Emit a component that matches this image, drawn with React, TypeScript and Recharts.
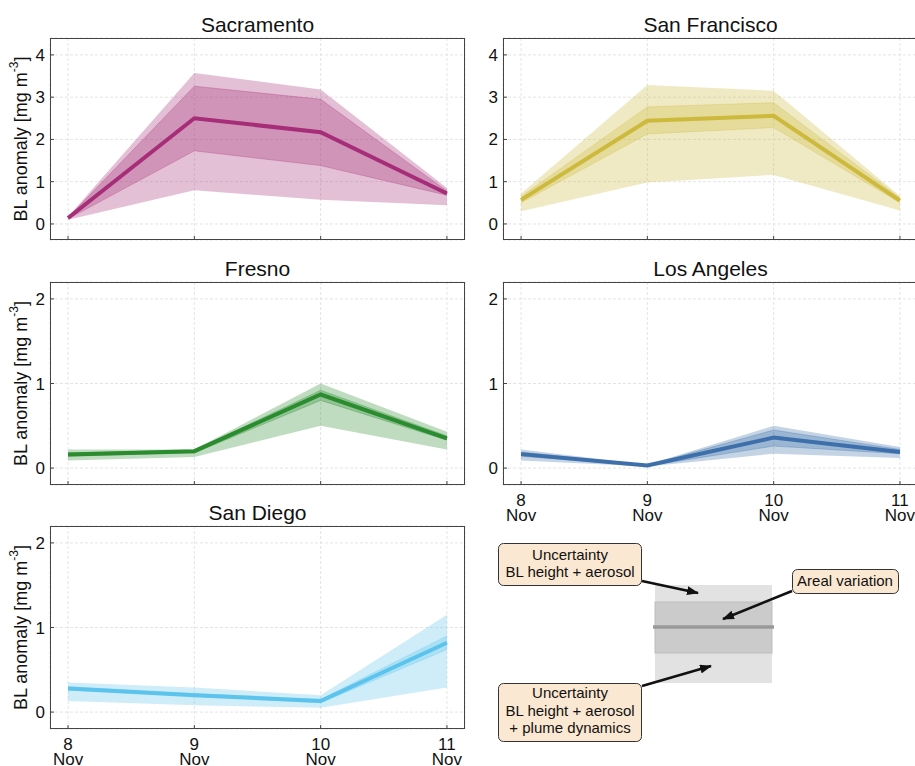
import { ComposedChart, Area, Line, XAxis, YAxis, CartesianGrid } from "recharts";

const FONT = '"Liberation Sans", Arial, Helvetica, sans-serif';

const days = [8, 9, 10, 11];
const monthLabel = "Nov";
const topTicks = [0, 1, 2, 3, 4];
const lowTicks = [0, 1, 2];

// Sacramento
const sacMean = [0.14, 2.5, 2.17, 0.72];
const sacInnerLo = [0.12, 1.73, 1.38, 0.68];
const sacInnerHi = [0.15, 3.26, 2.95, 0.78];
const sacOuterLo = [0.1, 0.8, 0.57, 0.44];
const sacOuterHi = [0.17, 3.57, 3.18, 0.85];

// San Francisco
const sfMean = [0.57, 2.44, 2.56, 0.55];
const sfInnerLo = [0.5, 2.13, 2.28, 0.5];
const sfInnerHi = [0.65, 2.77, 2.87, 0.62];
const sfOuterLo = [0.3, 0.98, 1.16, 0.32];
const sfOuterHi = [0.72, 3.29, 3.15, 0.66];

// Fresno
const frMean = [0.16, 0.2, 0.87, 0.35];
const frInnerLo = [0.14, 0.18, 0.8, 0.33];
const frInnerHi = [0.18, 0.21, 0.92, 0.38];
const frOuterLo = [0.09, 0.13, 0.5, 0.22];
const frOuterHi = [0.22, 0.22, 1.0, 0.43];

// Los Angeles
const laMean = [0.165, 0.03, 0.36, 0.19];
const laInnerLo = [0.14, 0.025, 0.26, 0.17];
const laInnerHi = [0.19, 0.035, 0.45, 0.22];
const laOuterLo = [0.09, 0.02, 0.17, 0.12];
const laOuterHi = [0.22, 0.04, 0.5, 0.25];

// San Diego
const sdMean = [0.28, 0.2, 0.13, 0.82];
const sdInnerLo = [0.26, 0.19, 0.11, 0.74];
const sdInnerHi = [0.3, 0.22, 0.15, 0.9];
const sdOuterLo = [0.13, 0.08, 0.05, 0.29];
const sdOuterHi = [0.35, 0.29, 0.2, 1.15];

const AXIS_W = 50;
const TOP = 4;
const XH = 45;
const xDomain = [7.857, 11.143];

type PanelSpec = {
  title: string;
  color: string;
  mean: number[];
  innerLo: number[];
  innerHi: number[];
  outerLo: number[];
  outerHi: number[];
  x: number;
  y: number;
  w: number;
  h: number;
  yDomain: number[];
  yTicks: number[];
  xLabels: boolean;
  yLabel: boolean;
};

const renderXTick = (props: any) => {
  const { x, y, payload } = props;
  return (
    <g>
      <text x={x} y={y + 21} textAnchor="middle" fontSize={17} fill="#111" fontFamily={FONT}>
        {payload.value}
      </text>
      <text x={x} y={y + 36} textAnchor="middle" fontSize={17} fill="#111" fontFamily={FONT}>
        {monthLabel}
      </text>
    </g>
  );
};

const renderNoTick = () => <g />;

const renderYLabel = (props: any) => {
  const vb = props.viewBox || { x: 0, y: 0, width: AXIS_W, height: 200 };
  const cx = vb.x + 21;
  const cy = vb.y + vb.height / 2;
  return (
    <text
      x={cx}
      y={cy}
      transform={`rotate(-90, ${cx}, ${cy})`}
      textAnchor="middle"
      dominantBaseline="central"
      fontSize={18}
      fill="#111"
      fontFamily={FONT}
    >
      <tspan>BL anomaly [mg m</tspan>
      <tspan dy={-7} fontSize={12}>-3</tspan>
      <tspan dy={7}>]</tspan>
    </text>
  );
};

function Panel({ p }: { p: PanelSpec }) {
  const data = days.map((d, i) => ({
    day: d,
    mean: p.mean[i],
    inner: [p.innerLo[i], p.innerHi[i]],
    outer: [p.outerLo[i], p.outerHi[i]],
  }));
  return (
    <>
      <div
        style={{
          position: "absolute",
          left: p.x,
          top: p.y - 24,
          width: p.w,
          textAlign: "center",
          fontSize: 21,
          lineHeight: "21px",
          color: "#111",
        }}
      >
        {p.title}
      </div>
      <div style={{ position: "absolute", left: p.x - AXIS_W, top: p.y - TOP }}>
        <ComposedChart
          width={p.w + AXIS_W + 2}
          height={TOP + p.h + XH}
          data={data}
          margin={{ top: TOP, right: 2, bottom: 0, left: 0 }}
        >
          <CartesianGrid stroke="#e4e4e4" strokeDasharray="3 2" />
          <XAxis
            dataKey="day"
            type="number"
            domain={xDomain}
            ticks={days}
            allowDataOverflow
            axisLine={false}
            tickSize={-4}
            tickMargin={4}
            tickLine={{ stroke: "#444" }}
            height={XH}
            interval={0}
            tick={p.xLabels ? renderXTick : renderNoTick}
          />
          <YAxis
            type="number"
            domain={p.yDomain}
            ticks={p.yTicks}
            allowDataOverflow
            axisLine={false}
            width={AXIS_W}
            tickSize={-4}
            tickMargin={9}
            tickLine={{ stroke: "#444" }}
            interval={0}
            tick={{ fontSize: 17, fill: "#111", fontFamily: FONT }}
            label={p.yLabel ? { content: renderYLabel } : undefined}
          />
          <Area
            type="linear"
            dataKey="outer"
            fill={p.color}
            fillOpacity={0.3}
            stroke="none"
            isAnimationActive={false}
            dot={false}
            activeDot={false}
          />
          <Area
            type="linear"
            dataKey="inner"
            fill={p.color}
            fillOpacity={0.3}
            stroke={p.color}
            strokeOpacity={0.3}
            strokeWidth={1}
            isAnimationActive={false}
            dot={false}
            activeDot={false}
          />
          <Line
            type="linear"
            dataKey="mean"
            stroke={p.color}
            strokeWidth={4}
            dot={false}
            activeDot={false}
            isAnimationActive={false}
          />
        </ComposedChart>
      </div>
      <div
        style={{
          position: "absolute",
          left: p.x,
          top: p.y,
          width: p.w,
          height: p.h,
          border: "1.5px solid #444",
          boxSizing: "border-box",
          pointerEvents: "none",
        }}
      />
    </>
  );
}

const panels: PanelSpec[] = [
  {
    title: "Sacramento", color: "#A62D78",
    mean: sacMean, innerLo: sacInnerLo, innerHi: sacInnerHi, outerLo: sacOuterLo, outerHi: sacOuterHi,
    x: 50, y: 38, w: 415, h: 202, yDomain: [-0.38, 4.4], yTicks: topTicks, xLabels: false, yLabel: true,
  },
  {
    title: "San Francisco", color: "#CDB93C",
    mean: sfMean, innerLo: sfInnerLo, innerHi: sfInnerHi, outerLo: sfOuterLo, outerHi: sfOuterHi,
    x: 503, y: 38, w: 415, h: 202, yDomain: [-0.38, 4.4], yTicks: topTicks, xLabels: false, yLabel: false,
  },
  {
    title: "Fresno", color: "#2A8C2E",
    mean: frMean, innerLo: frInnerLo, innerHi: frInnerHi, outerLo: frOuterLo, outerHi: frOuterHi,
    x: 50, y: 282, w: 415, h: 203, yDomain: [-0.2, 2.2], yTicks: lowTicks, xLabels: false, yLabel: true,
  },
  {
    title: "Los Angeles", color: "#3D6FAA",
    mean: laMean, innerLo: laInnerLo, innerHi: laInnerHi, outerLo: laOuterLo, outerHi: laOuterHi,
    x: 503, y: 282, w: 415, h: 203, yDomain: [-0.2, 2.2], yTicks: lowTicks, xLabels: true, yLabel: false,
  },
  {
    title: "San Diego", color: "#5CC4EC",
    mean: sdMean, innerLo: sdInnerLo, innerHi: sdInnerHi, outerLo: sdOuterLo, outerHi: sdOuterHi,
    x: 50, y: 526, w: 415, h: 203, yDomain: [-0.2, 2.2], yTicks: lowTicks, xLabels: true, yLabel: true,
  },
];

function LegendSketch() {
  const boxFill = "#FBE8D2";
  const txt = { fontSize: 15, fill: "#111", fontFamily: FONT, textAnchor: "middle" as const };
  return (
    <svg
      width={435}
      height={246}
      style={{ position: "absolute", left: 480, top: 520 }}
    >
      <defs>
        <marker id="ah" markerWidth="12" markerHeight="9" refX="11" refY="4.5" orient="auto" markerUnits="userSpaceOnUse">
          <path d="M0,0 L12,4.5 L0,9 z" fill="#111" />
        </marker>
      </defs>
      <rect x={175} y={65} width={117} height={98} fill="#E2E2E2" />
      <rect x={175} y={82} width={117} height={51} fill="#CBCBCB" stroke="#BDBDBD" strokeWidth={1} />
      <line x1={173} x2={294} y1={107} y2={107} stroke="#999" strokeWidth={3.5} />

      <rect x={18.5} y={23.5} width={143} height={42} rx={5} fill={boxFill} stroke="#333" strokeWidth={1} />
      <text {...txt} x={90} y={40}>Uncertainty</text>
      <text {...txt} x={90} y={57}>BL height + aerosol</text>

      <rect x={312.5} y={49.5} width={106} height={24} rx={5} fill={boxFill} stroke="#333" strokeWidth={1} />
      <text {...txt} x={365} y={66}>Areal variation</text>

      <rect x={18.5} y={163.5} width={143} height={58} rx={5} fill={boxFill} stroke="#333" strokeWidth={1} />
      <text {...txt} x={90} y={178}>Uncertainty</text>
      <text {...txt} x={90} y={195.5}>BL height + aerosol</text>
      <text {...txt} x={90} y={213}>+ plume dynamics</text>

      <line x1={162} y1={61} x2={218} y2={73} stroke="#111" strokeWidth={2.5} markerEnd="url(#ah)" />
      <line x1={312} y1={71} x2={243} y2={99} stroke="#111" strokeWidth={2.5} markerEnd="url(#ah)" />
      <line x1={162} y1={166} x2={231} y2={146} stroke="#111" strokeWidth={2.5} markerEnd="url(#ah)" />
    </svg>
  );
}

export default function App() {
  return (
    <div
      style={{
        position: "absolute",
        left: 0,
        top: 0,
        width: 915,
        height: 766,
        overflow: "hidden",
        background: "#fff",
        fontFamily: FONT,
      }}
    >
      {panels.map((p) => (
        <Panel key={p.title} p={p} />
      ))}
      <LegendSketch />
    </div>
  );
}
